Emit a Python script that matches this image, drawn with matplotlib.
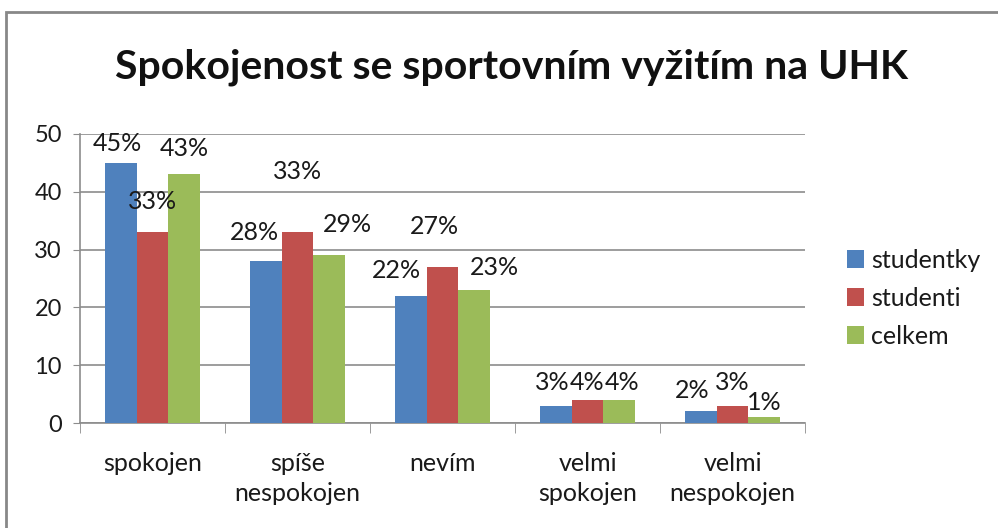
import matplotlib
matplotlib.use("Agg")
import matplotlib.pyplot as plt
from matplotlib.patches import Rectangle
import numpy as np

categories = ["spokojen", "spíše\nnespokojen", "nevím", "velmi\nspokojen", "velmi\nnespokojen"]
series_names = ["studentky", "studenti", "celkem"]
studentky = [45, 28, 22, 3, 2]
studenti = [33, 33, 27, 4, 3]
celkem = [43, 29, 23, 4, 1]
yticks = [0, 10, 20, 30, 40, 50]
title = "Spokojenost se sportovním vyžitím na UHK"

colors = ["#4F81BD", "#C0504D", "#9BBB59"]
# label offsets in pixels (style only)
label_offsets = [
    [(-3, 19), (-11, 29), (-14, 25), (-3, 23), (-8, 21)],
    [(0, 31), (0, 61), (-8, 40), (0, 17), (0, 23)],
    [(0, 26), (18, 31), (20, 23), (3, 17), (0, 15)],
]

plt.rcParams['font.family'] = ['Lato', 'DejaVu Sans']
fig = plt.figure(figsize=(9.98, 5.28), dpi=100)
ax = fig.add_axes([80/998, 1-423/528, (805-80)/998, (423-134)/528])

x = np.arange(len(categories))
w = 0.22
data = [studentky, studenti, celkem]
for i, (name, vals) in enumerate(zip(series_names, data)):
    bars = ax.bar(x + (i-1)*w, vals, width=w, color=colors[i], label=name, zorder=3)
    for j, (b, v) in enumerate(zip(bars, vals)):
        dx, dy = label_offsets[i][j]
        ax.annotate(f"{v}%", (b.get_x()+b.get_width()/2, v), xytext=(dx, dy),
                    textcoords='offset pixels', ha='center', va='center',
                    fontsize=18, color='#1a1a1a', zorder=5)

ax.set_xlim(-0.5, len(categories)-0.5)
ax.set_ylim(0, 50)
ax.set_yticks(yticks)
ax.set_xticks(x)
ax.set_xticklabels(categories, fontsize=18, color='#1a1a1a', linespacing=1.35)
ax.set_xticks(np.arange(-0.5, len(categories)), minor=True)
ax.tick_params(axis='x', which='major', length=0, pad=21)
ax.tick_params(axis='x', which='minor', length=7, color='#8c8c8c', direction='out')
ax.tick_params(axis='y', length=5, color='#8c8c8c', labelsize=17, labelcolor='#1a1a1a', pad=8)
ax.grid(axis='y', color='#8c8c8c', linewidth=1.2, zorder=0)
for s in ['top', 'right']:
    ax.spines[s].set_visible(False)
for s in ['left', 'bottom']:
    ax.spines[s].set_color('#8c8c8c')
    ax.spines[s].set_linewidth(1.2)

fig.text(512/998, 1-67/528, title, ha='center', va='center', fontsize=29.5,
         fontweight='bold', color='#111111')

leg = ax.legend(loc='upper left', bbox_to_anchor=(834/998, 1-236/528),
                bbox_transform=fig.transFigure, frameon=False, fontsize=18,
                handlelength=0.7, handleheight=0.7, handletextpad=0.3,
                labelspacing=0.6, borderpad=0)
for t in leg.get_texts():
    t.set_color('#1a1a1a')

fig.patches.append(Rectangle((6/998, -0.1), 1.2, 1-12/528+0.1, transform=fig.transFigure,
                             fill=False, edgecolor='#888888', linewidth=2))

fig.savefig("out.png", dpi=100)
